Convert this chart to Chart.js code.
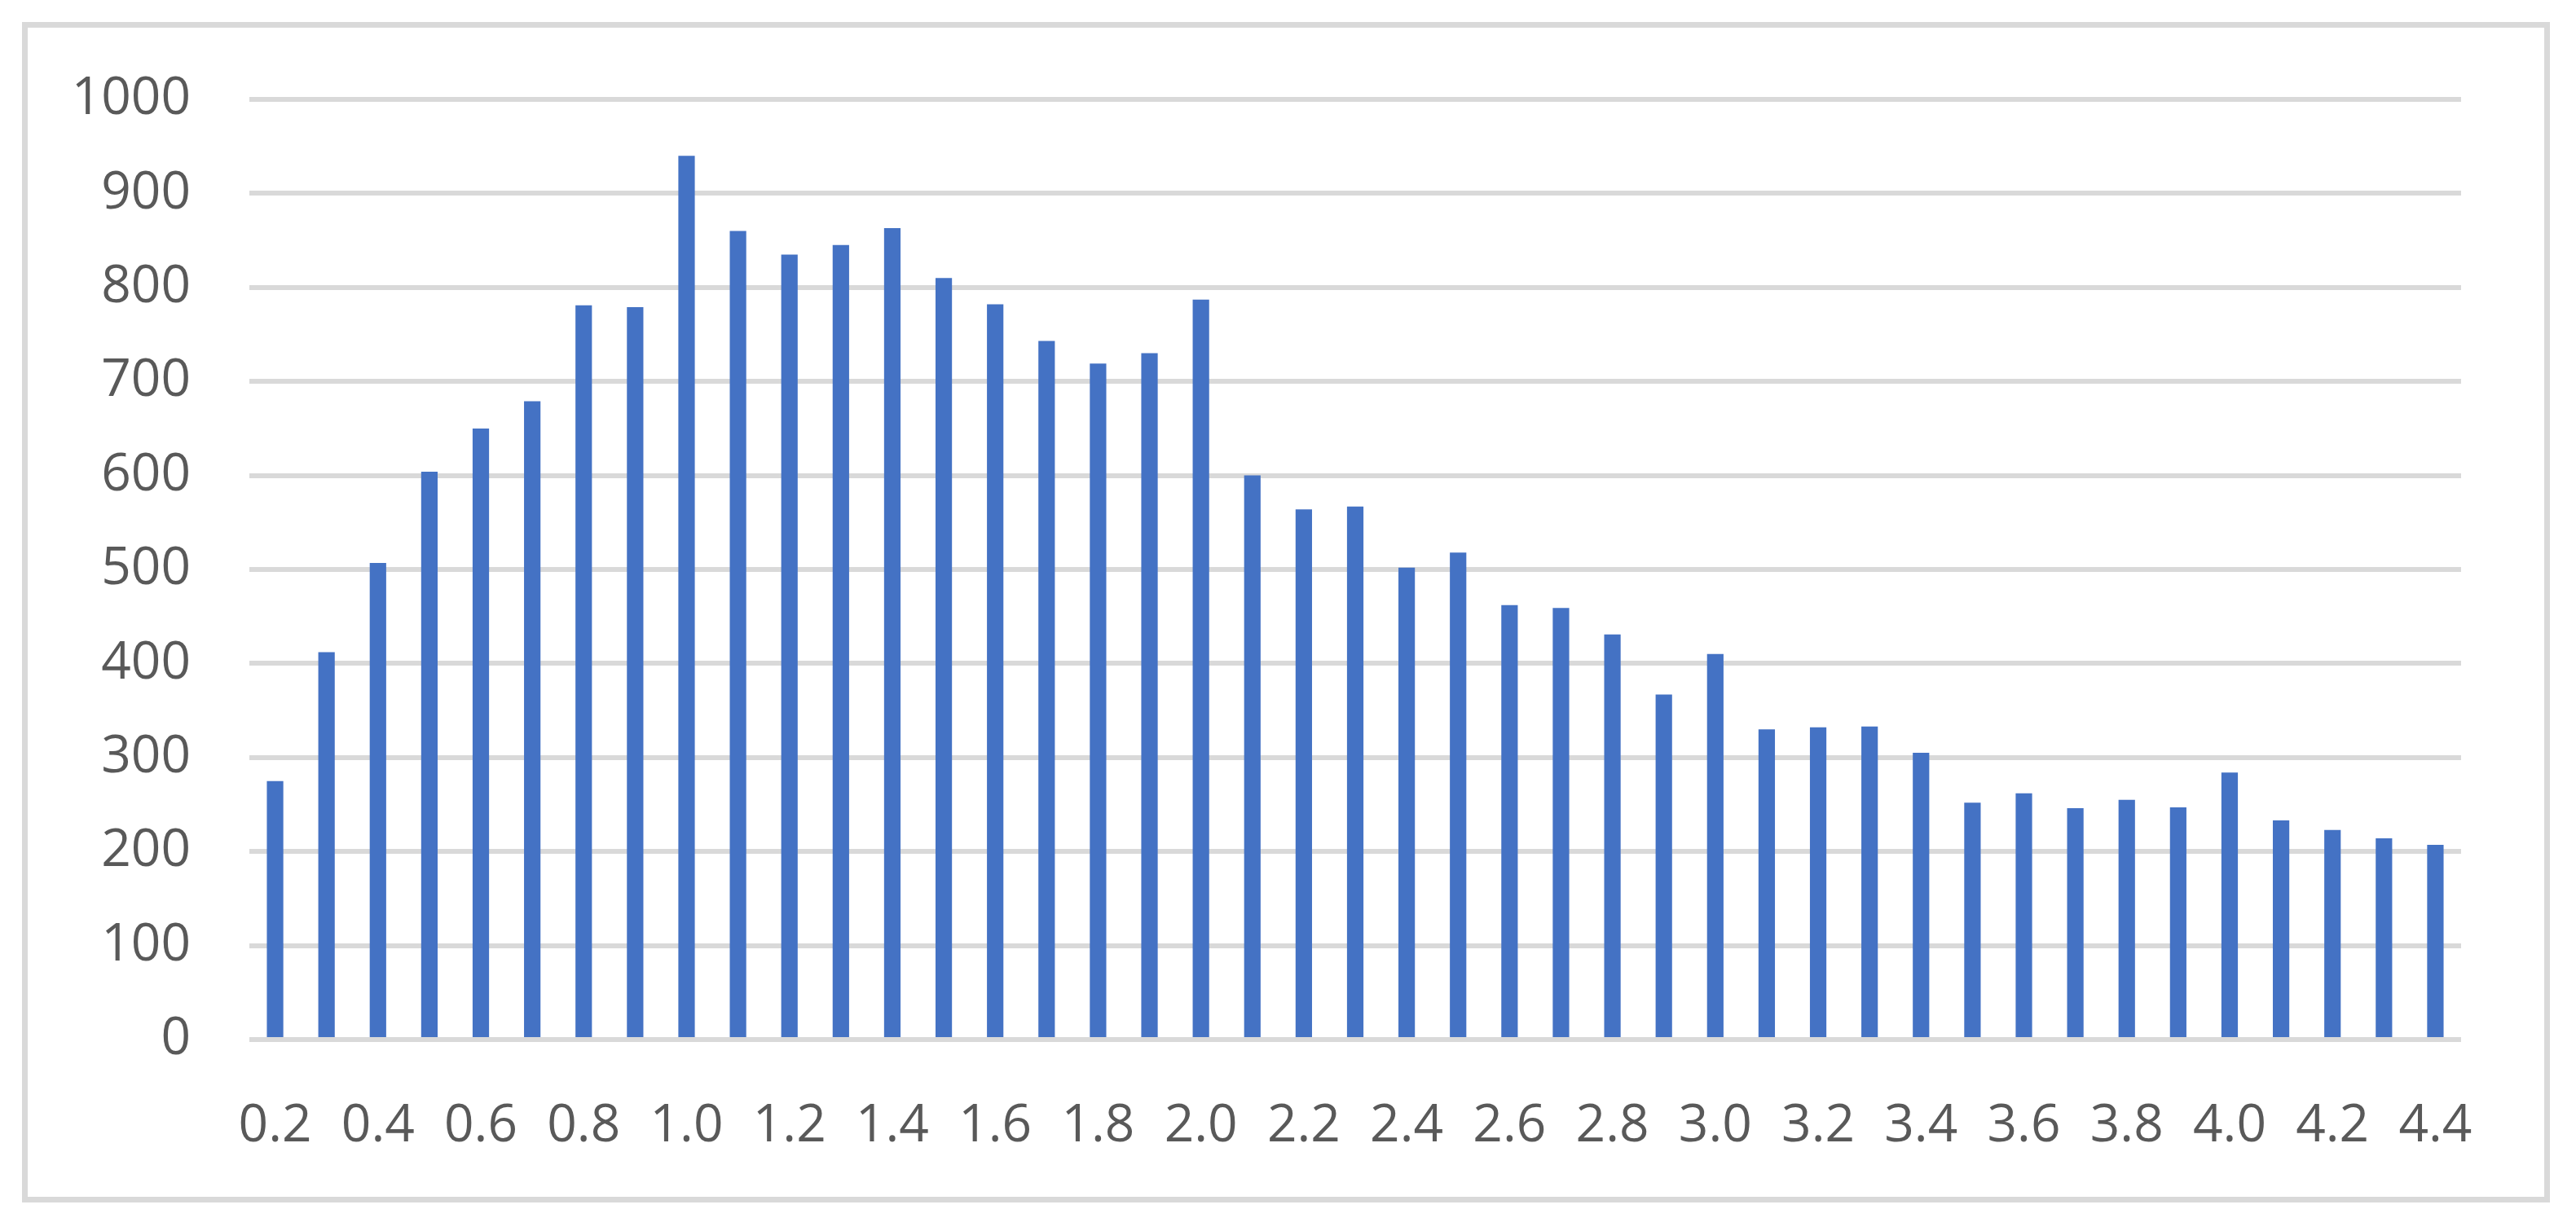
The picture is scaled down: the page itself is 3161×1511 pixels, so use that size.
<!DOCTYPE html>
<html>
<head>
<meta charset="utf-8">
<script src="https://cdn.jsdelivr.net/npm/chart.js@4.4.1/dist/chart.umd.min.js"></script>
<style>
  html, body { margin: 0; padding: 0; background: #fff; }
  #wrap { width: 3161px; height: 1511px; }
</style>
</head>
<body>
<div id="wrap"><canvas id="myChart" width="3161" height="1511"></canvas></div>
<script>
const categories = ['0.2', '0.3', '0.4', '0.5', '0.6', '0.7', '0.8', '0.9', '1.0', '1.1',
  '1.2', '1.3', '1.4', '1.5', '1.6', '1.7', '1.8', '1.9', '2.0', '2.1',
  '2.2', '2.3', '2.4', '2.5', '2.6', '2.7', '2.8', '2.9', '3.0', '3.1',
  '3.2', '3.3', '3.4', '3.5', '3.6', '3.7', '3.8', '3.9', '4.0', '4.1',
  '4.2', '4.3', '4.4'];

const counts = [275, 412, 507, 604, 650, 679, 781, 779, 940, 860,
  835, 845, 863, 810, 782, 743, 719, 730, 787, 600,
  564, 567, 502, 518, 462, 459, 431, 367, 410, 330,
  332, 333, 305, 252, 262, 246, 255, 247, 284, 233,
  223, 214, 207];

const yTicks = [0, 100, 200, 300, 400, 500, 600, 700, 800, 900, 1000];

// grey frame round the whole chart
const frame = {
  id: 'frame',
  afterDraw(chart) {
    const c = chart.ctx;
    c.save();
    c.strokeStyle = '#d9d9d9';
    c.lineWidth = 7;
    c.strokeRect(30.5, 30.5, 3095, 1442);
    c.restore();
  }
};

const ctx = document.getElementById('myChart');

new Chart(ctx, {
  type: 'bar',
  data: {
    labels: categories,
    datasets: [{
      data: counts,
      backgroundColor: '#4472C4',
      borderWidth: 0,
      barPercentage: 0.32,
      categoryPercentage: 1.0
    }]
  },
  options: {
    responsive: false,
    animation: false,
    devicePixelRatio: 1,
    layout: {
      padding: { left: 0, top: 122, right: 141, bottom: 85 }
    },
    plugins: {
      legend: { display: false },
      tooltip: { enabled: false }
    },
    scales: {
      x: {
        grid: { display: false },
        border: { display: false },
        ticks: {
          autoSkip: false,
          maxRotation: 0,
          padding: 60,
          color: '#595959',
          font: { family: 'Open Sans', size: 64 },
          callback: (v, i) => (i % 2 === 0 ? categories[i] : '')
        },
        afterFit: (axis) => { axis.height = 150; }
      },
      y: {
        min: 0,
        max: 1000,
        afterBuildTicks: (axis) => { axis.ticks = yTicks.map(v => ({ value: v })); },
        grid: { color: '#d9d9d9', lineWidth: 6, drawTicks: false },
        border: { display: false },
        ticks: {
          padding: 72,
          color: '#595959',
          font: { family: 'Open Sans', size: 64 },
          callback: (v) => String(v)
        },
        afterFit: (axis) => { axis.width = 306; }
      }
    }
  },
  plugins: [frame]
});
</script>
</body>
</html>
